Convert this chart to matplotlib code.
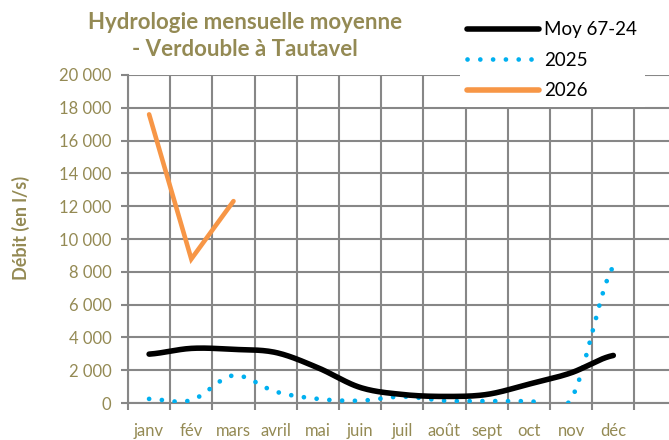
import numpy as np
import matplotlib.pyplot as plt
from matplotlib.lines import Line2D
from matplotlib.ticker import FuncFormatter, MultipleLocator, FixedLocator

plt.rcParams['font.family'] = ['Lato', 'DejaVu Sans']

mois = ['janv', 'fév', 'mars', 'avril', 'mai', 'juin', 'juil', 'août', 'sept', 'oct', 'nov', 'déc']
moy_67_24 = [2980, 3330, 3270, 3080, 2150, 950, 520, 400, 520, 1150, 1840, 2900]
debit_2025 = [250, 170, 1680, 690, 250, 140, 390, 140, 120, 120, 250, 8330]
debit_2026 = [17600, 8780, 12310]

olive = '#948A54'
gris = '#878787'
bleu = '#00B0F0'
orange = '#F79646'


def lissage(y, n=24):
    # courbe lissée façon Excel (Catmull-Rom passant par chaque point)
    y = np.asarray(y, float)
    x = np.arange(len(y), dtype=float)
    xs, ys = [], []
    for i in range(len(y) - 1):
        y0 = y[i - 1] if i > 0 else y[i]
        y3 = y[i + 2] if i + 2 < len(y) else y[i + 1]
        m1 = (y[i + 1] - y0) / 2
        m2 = (y3 - y[i]) / 2
        t = np.linspace(0, 1, n)
        h00 = 2 * t**3 - 3 * t**2 + 1
        h10 = t**3 - 2 * t**2 + t
        h01 = -2 * t**3 + 3 * t**2
        h11 = t**3 - t**2
        xs.append(x[i] + t)
        ys.append(h00 * y[i] + h10 * m1 + h01 * y[i + 1] + h11 * m2)
    return np.concatenate(xs), np.concatenate(ys)


fig = plt.figure(figsize=(6.69, 4.40), dpi=100)
ax = fig.add_axes([128 / 669, 37 / 440, 541 / 669, 328 / 440])

x = np.arange(len(mois))
xm, ym = lissage(moy_67_24)
x25, y25 = lissage(debit_2025)
pointille = (0, (0.01, 2.7))
ax.plot(xm, ym, color='black', lw=4, solid_capstyle='round', zorder=4)
ax.plot(x25, y25, color=bleu, lw=3.4, linestyle=pointille,
        dash_capstyle='round', zorder=3)
ax.plot(x[:len(debit_2026)], debit_2026, color=orange, lw=3.3,
        solid_capstyle='round', solid_joinstyle='miter', zorder=5)

ax.set_xlim(-0.5, -0.5 + 541 / 42.2)
ax.set_ylim(0, 20000)

ax.set_xticks(x)
ax.set_xticklabels(mois)
ax.xaxis.set_minor_locator(FixedLocator(np.arange(-0.5, 13, 1)))
ax.yaxis.set_major_locator(MultipleLocator(2000))
ax.yaxis.set_major_formatter(FuncFormatter(lambda v, p: f'{int(v):,}'.replace(',', ' ')))

ax.tick_params(axis='x', which='major', length=0, pad=14.5, labelsize=12, labelcolor=olive)
ax.tick_params(axis='x', which='minor', length=5, width=1.5, color=gris)
ax.tick_params(axis='y', which='major', length=5, width=1.5, color=gris, pad=7,
               labelsize=12, labelcolor=olive)

ax.grid(True, axis='x', which='minor', color=gris, lw=1.5)
ax.grid(True, axis='y', which='major', color=gris, lw=1.5)
ax.set_axisbelow(True)
for s in ['top', 'right']:
    ax.spines[s].set_visible(False)
for s in ['left', 'bottom']:
    ax.spines[s].set_color(gris)
    ax.spines[s].set_linewidth(1.5)

fig.text(245 / 669, 1 - 36 / 440, 'Hydrologie mensuelle moyenne\n- Verdouble à Tautavel',
         ha='center', va='center', color=olive, fontsize=16, fontweight='bold',
         linespacing=1.4)
fig.text(21 / 669, 1 - 228 / 440, 'Débit (en l/s)', rotation=90, ha='center', va='center',
         color=olive, fontsize=13, fontweight='bold')

handles = [
    Line2D([], [], color='black', lw=4, solid_capstyle='round'),
    Line2D([], [], color=bleu, lw=3.4, linestyle=pointille, dash_capstyle='round'),
    Line2D([], [], color=orange, lw=4, solid_capstyle='round'),
]
fig.legend(handles, ['Moy 67-24', '2025', '2026'], loc='upper left',
           bbox_to_anchor=(460 / 669, 1 - 14 / 440), fontsize=13.5, frameon=True,
           facecolor='white', edgecolor='none', framealpha=1, fancybox=False,
           handlelength=3.8, handletextpad=0.3, labelspacing=0.72,
           borderpad=0.4, borderaxespad=0)

fig.savefig('out.png', dpi=100)
